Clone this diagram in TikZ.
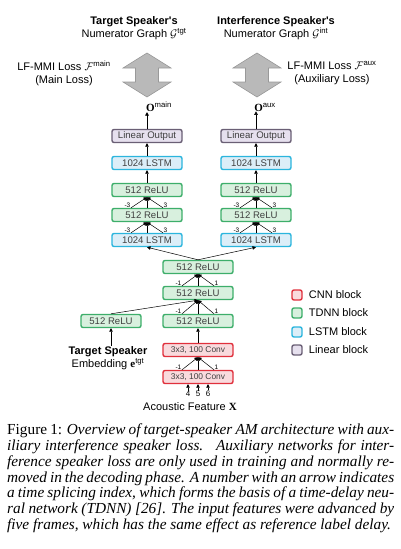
\documentclass[tikz,border=0pt]{standalone}
\usepackage{amsmath,amssymb}
\usepackage{fontspec}
\setmainfont{Liberation Serif}
\newfontfamily\arialfont{Liberation Sans}
\usepackage{tikz}
\usetikzlibrary{arrows.meta,positioning}
\definecolor{cnnred}{HTML}{E0303C}
\definecolor{cnnfill}{HTML}{F9DADD}
\definecolor{tdnngreen}{HTML}{3DAE6A}
\definecolor{tdnnfill}{HTML}{D8F0DE}
\definecolor{lstmblue}{HTML}{2BB5DD}
\definecolor{lstmfill}{HTML}{DCEEF8}
\definecolor{linpurple}{HTML}{6A5F75}
\definecolor{linfill}{HTML}{E6E0EE}
\newcommand{\boxfont}{\arialfont\fontsize{9.6}{10}\selectfont}
\newcommand{\labfont}{\arialfont\fontsize{11}{13}\selectfont}
% three spliced inputs (-k, 0, k) from one layer to the next
\newcommand{\splicearr}[3]{%
  \draw[arr] ([xshift=-16pt]#1.north) -- (#2.south);
  \draw[arr] (#1.north) -- (#2.south);
  \draw[arr] ([xshift=16pt]#1.north) -- (#2.south);
  \node[splicelab, anchor=east] at ([xshift=-16pt,yshift=3pt]#1.north) {-#3};
  \node[splicelab, anchor=west] at ([xshift=16pt,yshift=3pt]#1.north) {#3};
}

\begin{document}
\begin{tikzpicture}[
  x=1pt, y=-1pt,
  arr/.style = {-{Triangle[length=3.5pt,width=3.5pt]}, line width=0.5pt},
  blk/.style = {draw, rounded corners=2pt, line width=1.4pt, minimum width=70pt,
                minimum height=13pt, inner sep=0pt, font=\boxfont, text=black!75},
  cnnbox/.style  = {blk, draw=cnnred, fill=cnnfill, font=\arialfont\fontsize{8.4}{9}\selectfont},
  tdnnbox/.style = {blk, draw=tdnngreen, fill=tdnnfill},
  lstmbox/.style = {blk, draw=lstmblue, fill=lstmfill},
  linbox/.style  = {blk, draw=linpurple, fill=linfill},
  legbox/.style  = {draw, rounded corners=2pt, line width=1.4pt, minimum size=10pt, inner sep=0pt},
  bigarr/.style  = {fill=gray!55, draw=gray!80, line width=0.6pt},
  lab/.style = {font=\labfont, align=center, inner sep=0pt},
  splicelab/.style = {font=\arialfont\fontsize{6.5}{7}\selectfont, inner sep=0.5pt},
  captext/.style = {text width=387pt, align=justify, inner sep=0pt,
                    font=\fontsize{15.3}{15.7}\selectfont},
]
\useasboundingbox (0,0) rectangle (401,549);

% Numerator graphs and losses
\node[lab] (graphM) at (134,28) {\textbf{Target Speaker's}\\Numerator Graph $\mathcal{G}^{\text{tgt}}$};
\node[lab] (graphA) at (276,28) {\textbf{Interference Speaker's}\\Numerator Graph $\mathcal{G}^{\text{int}}$};
\node[lab] (lossM) at (64,73) {LF-MMI Loss $\mathcal{F}^{\text{main}}$\\(Main Loss)};
\node[lab] (lossA) at (332,73) {LF-MMI Loss $\mathcal{F}^{\text{aux}}$\\(Auxiliary Loss)};
\filldraw[bigarr, shift={(147,0)}] (0,53) -- (24,68) -- (11.5,68) -- (11.5,82) -- (24,82)
  -- (0,97) -- (-24,82) -- (-11.5,82) -- (-11.5,68) -- (-24,68) -- cycle;
\filldraw[bigarr, shift={(257,0)}] (0,53) -- (24,68) -- (11.5,68) -- (11.5,82) -- (24,82)
  -- (0,97) -- (-24,82) -- (-11.5,82) -- (-11.5,68) -- (-24,68) -- cycle;
\node[lab] (omain) at (159,107) {$\mathbf{O}^{\text{main}}$};
\node[lab] (oaux) at (265,107) {$\mathbf{O}^{\text{aux}}$};

% Main branch
\node[linbox]  (linM)   at (147,136) {Linear Output};
\node[lstmbox] (lstmM2) at (147,163) {1024 LSTM};
\node[tdnnbox] (reluM2) at (147,190) {512 ReLU};
\node[tdnnbox] (reluM1) at (147,215) {512 ReLU};
\node[lstmbox] (lstmM1) at (147,240) {1024 LSTM};

% Auxiliary branch
\node[linbox]  (linA)   at (256,136) {Linear Output};
\node[lstmbox] (lstmA2) at (256,163) {1024 LSTM};
\node[tdnnbox] (reluA2) at (256,190) {512 ReLU};
\node[tdnnbox] (reluA1) at (256,215) {512 ReLU};
\node[lstmbox] (lstmA1) at (256,240) {1024 LSTM};

% Shared layers
\node[tdnnbox] (reluS3) at (198,267) {512 ReLU};
\node[tdnnbox] (reluS2) at (198,293) {512 ReLU};
\node[tdnnbox] (reluS1) at (198,321) {512 ReLU};
\node[cnnbox]  (conv2)  at (198,350) {3x3, 100 Conv};
\node[cnnbox]  (conv1)  at (198,377) {3x3, 100 Conv};

% Speaker embedding input
\node[tdnnbox, minimum width=60pt] (emb) at (111,321) {512 ReLU};
\node[lab] (tspk) at (108,358) {\textbf{Target Speaker}\\Embedding $\mathbf{e}^{\text{tgt}}$};

% Acoustic input
\node[splicelab, font=\arialfont\fontsize{8}{9}\selectfont] (f4) at (188,394) {4};
\node[splicelab, font=\arialfont\fontsize{8}{9}\selectfont] (f5) at (198,394) {5};
\node[splicelab, font=\arialfont\fontsize{8}{9}\selectfont] (f6) at (208,394) {6};
\node[lab] (feat) at (190,407) {Acoustic Feature $\mathbf{X}$};

% Arrows
\draw[arr] (linM.north) -- (linM.north |- omain.south);
\draw[arr] (linA.north) -- (linA.north |- oaux.south);
\draw[arr] (lstmM2.north) -- (linM.south);
\draw[arr] (lstmA2.north) -- (linA.south);
\draw[arr] (reluM2.north) -- (lstmM2.south);
\draw[arr] (reluA2.north) -- (lstmA2.south);
\splicearr{reluM1}{reluM2}{3}
\splicearr{reluA1}{reluA2}{3}
\splicearr{lstmM1}{reluM1}{3}
\splicearr{lstmA1}{reluA1}{3}
\draw[arr] (reluS3.north) -- (lstmM1.south);
\draw[arr] (reluS3.north) -- (lstmA1.south);
\splicearr{reluS2}{reluS3}{1}
\splicearr{reluS1}{reluS2}{1}
\draw[arr] (emb.north) -- (reluS2.south);
\draw[arr] (emb.south |- tspk.north) -- (emb.south);
\draw[arr] (conv2.north) -- (reluS1.south);
\splicearr{conv1}{conv2}{1}
\draw[arr] (f4.north) -- (f4.north |- conv1.south);
\draw[arr] (f5.north) -- (f5.north |- conv1.south);
\draw[arr] (f6.north) -- (f6.north |- conv1.south);

% Legend
\node[legbox, draw=cnnred, fill=cnnfill] (legcnn) at (297,295) {};
\node[legbox, draw=tdnngreen, fill=tdnnfill] (legtdnn) at (297,313) {};
\node[legbox, draw=lstmblue, fill=lstmfill] (leglstm) at (297,332) {};
\node[legbox, draw=linpurple, fill=linfill] (leglin) at (297,350) {};
\node[lab, right=6pt of legcnn] {CNN block};
\node[lab, right=6pt of legtdnn] {TDNN block};
\node[lab, right=6pt of leglstm] {LSTM block};
\node[lab, right=6pt of leglin] {Linear block};

% Caption
\node[captext, anchor=north west] (cap) at (7,424) {Figure 1: \textit{Overview of target-speaker AM architecture with aux-\linebreak
iliary interference speaker loss. \ Auxiliary networks for inter-\linebreak
ference speaker loss are only used in training and normally re-\linebreak
moved in the decoding phase. A number with an arrow indicates\linebreak
a time splicing index, which forms the basis of a time-delay neu-\linebreak
ral network (TDNN) [26]. The input features were advanced by\linebreak
five frames, which has the same effect as reference label delay.}};
\end{tikzpicture}
\end{document}
